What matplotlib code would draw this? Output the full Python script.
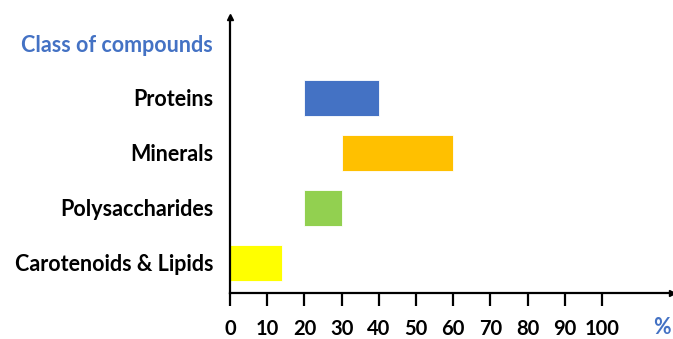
import matplotlib.pyplot as plt

categories = ["Carotenoids & Lipids", "Polysaccharides", "Minerals", "Proteins"]
starts = [0, 20, 30, 20]
ends = [14, 30, 60, 40]
colors = ["#FFFF00", "#92D050", "#FFC000", "#4472C4"]
xticks = [0, 10, 20, 30, 40, 50, 60, 70, 80, 90, 100]

plt.rcParams['font.family'] = ['Lato', 'DejaVu Sans']
plt.rcParams['font.weight'] = 'bold'

fig = plt.figure(figsize=(6.73, 3.39), dpi=100)
W, H = 673, 339
left, right, bottom, top = 230, 672, 292.7, 17
ax = fig.add_axes([left / W, (H - bottom) / H, (right - left) / W, (bottom - top) / H])

widths = [e - s for s, e in zip(starts, ends)]
ypos = list(range(len(categories)))
ax.barh(ypos, widths, left=starts, height=0.64, color=colors,
        edgecolor="white", linewidth=0.6)

ax.set_xlim(0, 118.8)
ax.set_ylim(-0.54, 4.47)

for s in ["top", "right"]:
    ax.spines[s].set_visible(False)
ax.spines["left"].set_linewidth(1.6)
ax.spines["bottom"].set_linewidth(1.6)

# arrow heads
ax.plot(1, 0, ">k", transform=ax.transAxes, clip_on=False, markersize=5)
ax.plot(0, 1, "^k", transform=ax.transAxes, clip_on=False, markersize=5)

ax.set_xticks(xticks)
ax.set_xticklabels([str(t) for t in xticks], fontsize=14.5, fontweight="bold")
ax.tick_params(axis="x", direction="out", length=9, width=1.6, pad=10)

ax.set_yticks(ypos)
ax.set_yticklabels(categories, fontsize=15.5, fontweight="bold")
ax.tick_params(axis="y", length=0, pad=12)

fig.text(213 / W, (H - 45) / H, "Class of compounds", color="#4472C4",
         fontsize=15.5, fontweight="bold", ha="right", va="center")
fig.text(671 / W, (H - 328) / H, "%", color="#4472C4",
         fontsize=15.5, fontweight="bold", ha="right", va="center")

fig.savefig("out.png", dpi=100)
